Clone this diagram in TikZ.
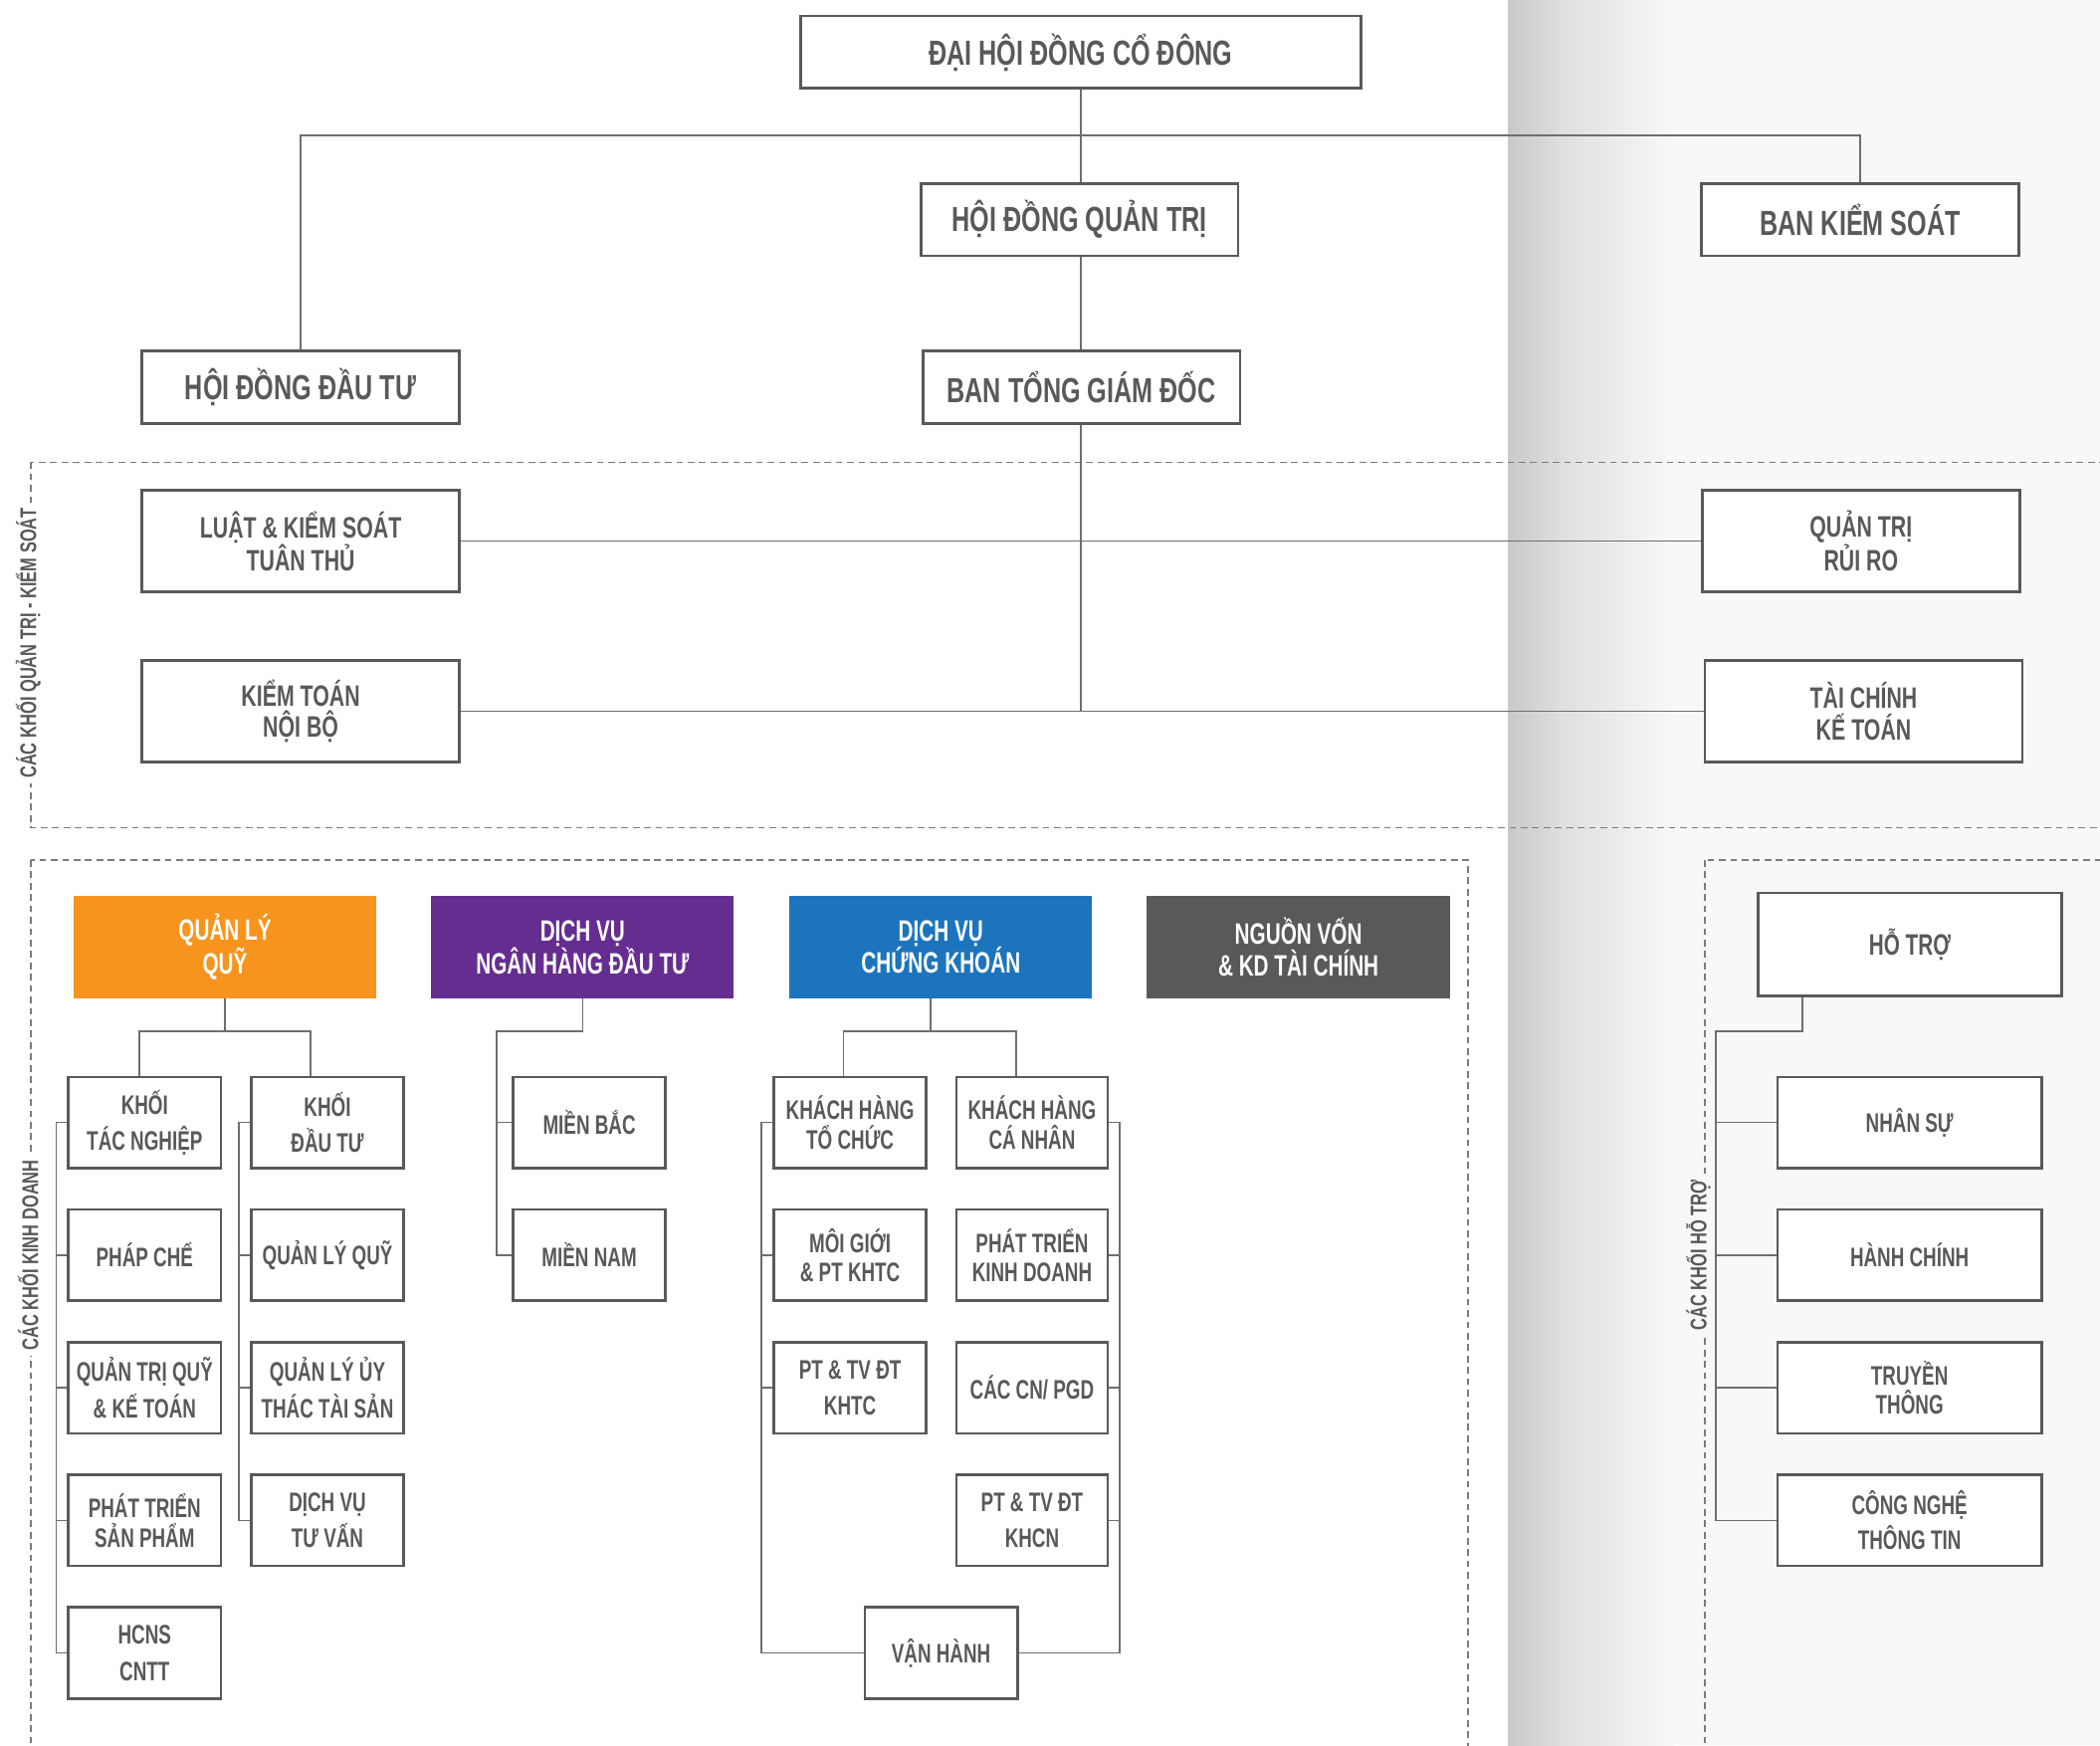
\documentclass[tikz,border=0pt]{standalone}
\usepackage{fontspec}
\setmainfont{Liberation Sans}
\newfontfamily\wideorg{Liberation Sans}[FakeStretch=0.72]
\newfontfamily\narroworg{Liberation Sans}[FakeStretch=0.7]

\definecolor{boxgray}{HTML}{58595B}
\definecolor{linegray}{HTML}{6D6E71}
\definecolor{dashgray}{HTML}{7A7B7D}
\definecolor{qlqorange}{HTML}{F7941D}
\definecolor{nhpurple}{HTML}{662D91}
\definecolor{ckblue}{HTML}{1C75BC}
\definecolor{nvgray}{HTML}{58595B}
\definecolor{bgdark}{HTML}{C8C9CB}
\definecolor{bgmid}{HTML}{DEDFE0}
\definecolor{bglight}{HTML}{F8F8F8}

\begin{document}
\begin{tikzpicture}[x=1pt,y=-1pt]
\tikzset{
    topbox/.style={
        draw=boxgray,
        line width=2pt,
        fill=white,
        minimum width=237pt,
        minimum height=54pt,
        text=boxgray,
        font=\wideorg\bfseries\fontsize{26}{28}\selectfont
    },
    govbox/.style={
        topbox,
        minimum height=76pt,
        align=center,
        font=\wideorg\bfseries\fontsize{22}{23.5}\selectfont
    },
    headbox/.style={
        fill=#1,
        minimum width=226pt,
        minimum height=76pt,
        text=white,
        align=center,
        font=\narroworg\bfseries\fontsize{22}{23.5}\selectfont
    },
    unitbox/.style={
        draw=boxgray,
        line width=2pt,
        fill=white,
        minimum width=114pt,
        minimum height=68pt,
        inner sep=2pt,
        text=boxgray,
        align=center,
        font=\narroworg\bfseries\fontsize{20}{22}\selectfont
    },
    supbox/.style={
        unitbox,
        minimum width=197pt
    },
    link/.style={
        draw=linegray,
        line width=1.2pt
    },
    zone/.style={
        draw=dashgray,
        line width=1pt,
        dash pattern=on 5pt off 3.5pt
    },
    zonelabel/.style={
        rotate=90,
        fill=#1,
        inner sep=4pt,
        text=boxgray,
        font=\wideorg\bfseries\fontsize{17}{18}\selectfont
    },
    zonelabel/.default=white,
}
\useasboundingbox (0,0) rectangle (1568,1303);
\clip (0,0) rectangle (1568,1303);

% page background with the fold shadow
\fill[white] (0,0) rectangle (1568,1303);
\shade[left color=bgdark, right color=bgmid] (1126,0) rectangle (1166,1303);
\shade[left color=bgmid, right color=bglight] (1165,0) rectangle (1250,1303);
\fill[bglight] (1249,0) rectangle (1568,1303);

% zones
\draw[zone] (23,345) rectangle (1600,618);
\draw[zone] (23,642) rectangle (1096,1330);
\draw[zone] (1273,642) rectangle (1600,1330);
\node[zonelabel] (zqt) at (21,480) {CÁC KHỐI QUẢN TRỊ - KIỂM SOÁT};
\node[zonelabel] (zkd) at (21,937) {CÁC KHỐI KINH DOANH};
\node[zonelabel=bglight] (zht) at (1268,937) {CÁC KHỐI HỖ TRỢ};

% top level
\node[topbox, minimum width=418pt] (dhdcd) at (807,39) {ĐẠI HỘI ĐỒNG CỔ ĐÔNG};
\node[topbox] (hdqt) at (806,164) {HỘI ĐỒNG QUẢN TRỊ};
\node[topbox] (bks) at (1389,164) {BAN KIỂM SOÁT};
\node[topbox] (hddt) at (224.5,289) {HỘI ĐỒNG ĐẦU TƯ};
\node[topbox] (btgd) at (807.5,289) {BAN TỔNG GIÁM ĐỐC};
\coordinate (bus1) at (807,101);

% governance blocks
\node[govbox] (luat) at (224.5,404) {LUẬT \& KIỂM SOÁT\\TUÂN THỦ};
\node[govbox] (ktnb) at (224.5,531) {KIỂM TOÁN\\NỘI BỘ};
\node[govbox] (qtrr) at (1389.5,404) {QUẢN TRỊ\\RỦI RO};
\node[govbox] (tckt) at (1391.5,531) {TÀI CHÍNH\\KẾ TOÁN};

\draw[link] (dhdcd.south) -- (dhdcd.south |- hdqt.north);
\draw[link] (hddt.north) |- (bus1) -| (bks.north);
\draw[link] (dhdcd.south |- hdqt.south) -- (dhdcd.south |- btgd.north);
\draw[link] (dhdcd.south |- btgd.south) -- (dhdcd.south |- ktnb.east);
\draw[link] (luat.east) -- (qtrr.west);
\draw[link] (ktnb.east) -- (tckt.west);

% business heads
\node[headbox=qlqorange] (qlq) at (168,707) {QUẢN LÝ\\QUỸ};
\node[headbox=nhpurple] (dvnh) at (435,707) {DỊCH VỤ\\NGÂN HÀNG ĐẦU TƯ};
\node[headbox=ckblue] (dvck) at (702.5,707) {DỊCH VỤ\\CHỨNG KHOÁN};
\node[headbox=nvgray, minimum width=227pt] (nv) at (969.5,707) {NGUỒN VỐN\\\& KD TÀI CHÍNH};

% quan ly quy
\node[unitbox] (ktn) at (108,838) {KHỐI\\[5pt]TÁC NGHIỆP};
\node[unitbox] (pc) at (108,937) {PHÁP CHẾ};
\node[unitbox] (qtq) at (108,1036) {QUẢN TRỊ QUỸ\\[5pt]\& KẾ TOÁN};
\node[unitbox] (ptsp) at (108,1135) {PHÁT TRIỂN\\SẢN PHẨM};
\node[unitbox] (hcns) at (108,1234) {HCNS\\[5pt]CNTT};
\node[unitbox] (kdt) at (244.5,838) {KHỐI\\[5pt]ĐẦU TƯ};
\node[unitbox] (qlqq) at (244.5,937) {QUẢN LÝ QUỸ};
\node[unitbox] (uthac) at (244.5,1036) {QUẢN LÝ ỦY\\[5pt]THÁC TÀI SẢN};
\node[unitbox] (dvtv) at (244.5,1135) {DỊCH VỤ\\[5pt]TƯ VẤN};

\coordinate (qlqfork) at (168,770);
\draw[link] (qlq.south) -- (qlqfork);
\draw[link] ([xshift=-4pt]ktn.north) |- (qlqfork) -| ([xshift=-12.5pt]kdt.north);
\draw[link] (ktn.west) -- ++(-8,0) |- (hcns.west);
\foreach \n in {pc,qtq,ptsp}
    \draw[link] (\n.west) -- ++(-8,0);
\draw[link] (kdt.west) -- ++(-8,0) |- (dvtv.west);
\foreach \n in {qlqq,uthac}
    \draw[link] (\n.west) -- ++(-8,0);

% ngan hang dau tu
\node[unitbox] (mbac) at (440,838) {MIỀN BẮC};
\node[unitbox] (mnam) at (440,937) {MIỀN NAM};
\coordinate (nhbus) at (370.6,770);
\draw[link] (dvnh.south) |- (nhbus) |- (mnam.west);
\draw[link] (mbac.west) -- (mbac.west -| nhbus);

% chung khoan
\node[unitbox] (khtc) at (634.7,838) {KHÁCH HÀNG\\TỔ CHỨC};
\node[unitbox] (mg) at (634.7,937) {MÔI GIỚI\\\& PT KHTC};
\node[unitbox] (pttc) at (634.7,1036) {PT \& TV ĐT\\[5pt]KHTC};
\node[unitbox, minimum width=113pt] (khcn) at (770.6,838) {KHÁCH HÀNG\\CÁ NHÂN};
\node[unitbox, minimum width=113pt] (ptkd) at (770.6,937) {PHÁT TRIỂN\\KINH DOANH};
\node[unitbox, minimum width=113pt] (cn) at (770.6,1036) {CÁC CN/ PGD};
\node[unitbox, minimum width=113pt] (ptcn) at (770.6,1135) {PT \& TV ĐT\\[5pt]KHCN};
\node[unitbox] (vh) at (702.7,1234) {VẬN HÀNH};

\coordinate (ckfork) at (695,770);
\draw[link] (dvck.south -| ckfork) -- (ckfork);
\draw[link] ([xshift=-5pt]khtc.north) |- (ckfork) -| ([xshift=-12pt]khcn.north);
\draw[link] (khtc.west) -- ++(-8,0) |- (vh.west);
\foreach \n in {mg,pttc}
    \draw[link] (\n.west) -- ++(-8,0);
\draw[link] (khcn.east) -- ++(8,0) |- (vh.east);
\foreach \n in {ptkd,cn,ptcn}
    \draw[link] (\n.east) -- ++(8,0);

% ho tro
\node[unitbox, minimum width=227pt, minimum height=77pt,
      font=\narroworg\bfseries\fontsize{22}{23.5}\selectfont] (ht) at (1426,705) {HỖ TRỢ};
\node[supbox] (ns) at (1425.8,838) {NHÂN SỰ};
\node[supbox] (hc) at (1425.8,937) {HÀNH CHÍNH};
\node[supbox] (tt) at (1425.8,1036) {TRUYỀN\\THÔNG};
\node[supbox] (cntt) at (1425.8,1135) {CÔNG NGHỆ\\[4pt]THÔNG TIN};

\coordinate (htbus) at (1281,770);
\draw[link] ([xshift=-80.4pt]ht.south) |- (htbus) |- (cntt.west);
\foreach \n in {ns,hc,tt}
    \draw[link] (\n.west) -- (\n.west -| htbus);
\end{tikzpicture}
\end{document}
